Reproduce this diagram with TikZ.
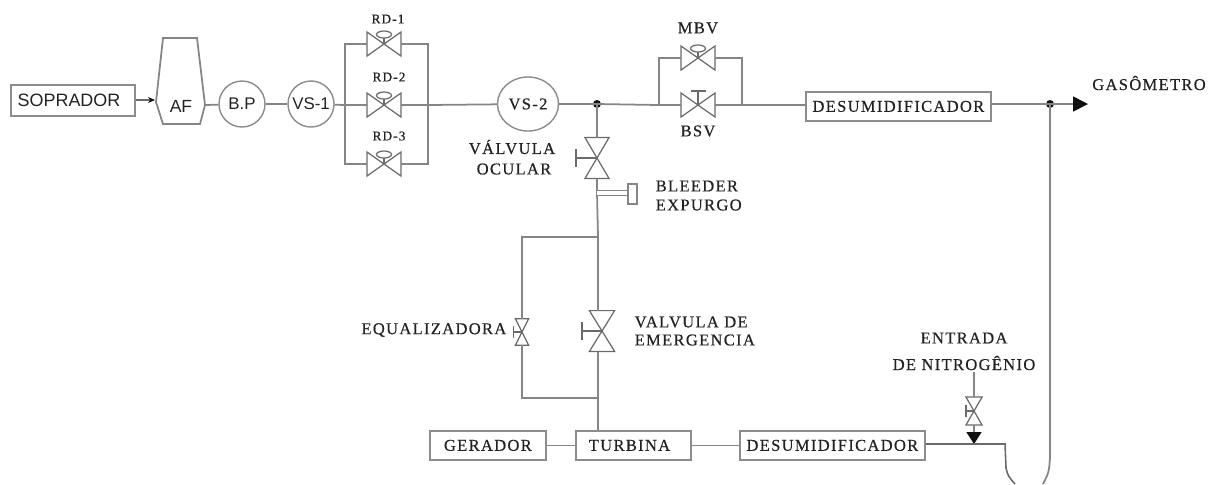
\documentclass[tikz,border=0pt]{standalone}
\usepackage{fontspec}
\setsansfont{Liberation Sans}
\newfontfamily\tagfont[LetterSpace=8,FakeBold=0.5]{Liberation Serif}
\usepackage{xcolor}
\usetikzlibrary{arrows.meta,shapes.geometric}
\definecolor{pipeline}{HTML}{858585}
\definecolor{boxline}{HTML}{8C8C8C}
\definecolor{textpri}{HTML}{222222}
\definecolor{tipcol}{HTML}{111111}
\tikzset{
  pipe/.style={draw=pipeline, line width=0.5pt},
  pipethin/.style={draw=pipeline!80!black, line width=0.35pt},
  unitbox/.style={draw=boxline, line width=0.5pt, inner sep=0, anchor=north west,
                  font=\fontsize{4.7}{5}\tagfont, text=textpri},
  unitround/.style={draw=boxline, line width=0.4pt, circle, inner sep=0, minimum size=0.46cm,
                    font=\sffamily\fontsize{4.8}{5}\selectfont, text=textpri},
  ltag/.style={inner sep=0, font=\fontsize{4.7}{5}\tagfont, text=textpri},
  lsmall/.style={inner sep=0, font=\fontsize{3.8}{5}\tagfont, text=textpri},
  juncdot/.style={circle, fill=tipcol, inner sep=0, minimum size=0.08cm},
  pics/bonnetvalve/.style={code={
    \draw[pipethin] (-.17,.12) -- (.17,-.12) -- (.17,.12) -- (-.17,-.12) -- cycle;
    \draw[pipethin] (0,0) -- (0,.06);
    \draw[pipethin] (0,.095) ellipse (.075 and .035);
    \coordinate (-w) at (-.17,0);
    \coordinate (-e) at (.17,0);
  }},
  pics/handvalve/.style={code={
    \draw[pipethin] (-.17,.12) -- (.17,-.12) -- (.17,.12) -- (-.17,-.12) -- cycle;
    \draw[pipethin] (0,0) -- (0,#1) (-.075,#1) -- (.075,#1);
    \coordinate (-w) at (-.17,0);
    \coordinate (-e) at (.17,0);
  }},
}
\begin{document}
\begin{tikzpicture}
  \useasboundingbox (0,0) rectangle (12.13,-4.84);

  % --- blower line ---
  \node[unitbox, minimum width=1.24cm, minimum height=0.31cm,
        font=\sffamily\fontsize{5.1}{5}\selectfont] (soprador) at (0.10,-0.84) {SOPRADOR\kern2.2pt};
  \draw[pipe] (1.63,-0.38) -- (1.97,-0.38) -- (2.05,-1.05) -- (2.00,-1.24)
              -- (1.63,-1.24) -- (1.56,-1.02) -- cycle;
  \node[inner sep=0, font=\sffamily\fontsize{5}{5}\selectfont, text=textpri] (af) at (1.81,-1.06) {AF};
  \coordinate (afw) at (1.55,-1.00);
  \coordinate (afe) at (2.05,-1.05);
  \node[unitround] (bp) at (2.42,-1.04) {B.P};
  \node[unitround] (vs1) at (3.11,-1.04) {VS-1};
  \draw[pipethin, -{Stealth[length=0.07cm,width=0.06cm,color=tipcol]}] (soprador.east |- afw) -- (afw);
  \draw[pipe] (afe) -- (bp);
  \draw[pipe] (bp) -- (vs1);

  % --- RD valves ---
  \pic (rd1) at (3.84,-0.44) {bonnetvalve};
  \pic (rd2) at (3.84,-1.05) {bonnetvalve};
  \pic (rd3) at (3.84,-1.64) {bonnetvalve};
  \node[lsmall] (lrd1) at (3.88,-0.19) {RD-1};
  \node[lsmall] (lrd2) at (3.89,-0.77) {RD-2};
  \node[lsmall] (lrd3) at (3.89,-1.36) {RD-3};
  \coordinate (rdinn) at (3.45,-1.05);
  \coordinate (rdout) at (4.28,-1.05);
  \draw[pipe] (vs1) -- (rdinn) -- (rd2-w);
  \draw[pipe] (rd1-w) -| (rdinn) |- (rd3-w);
  \draw[pipe] (rd1-e) -| (rdout) |- (rd3-e);
  \draw[pipe] (rd2-e) -- (rdout);

  % --- VS-2 and by-pass ---
  \node[draw=boxline, line width=0.4pt, ellipse, inner sep=0, minimum width=0.61cm, minimum height=0.54cm,
        font=\fontsize{4.7}{5}\tagfont, text=textpri] (vs2) at (5.28,-1.04) {VS-2};
  \node[juncdot] (tee) at (5.97,-1.04) {};
  \pic (mbv) at (6.98,-0.58) {bonnetvalve};
  \pic (bsv) at (6.98,-1.05) {handvalve=.14};
  \node[ltag] (lmbv) at (6.98,-0.28) {MBV};
  \node[ltag] (lbsv) at (6.98,-1.31) {BSV};
  \coordinate (bypinn) at (6.59,-1.05);
  \coordinate (bypout) at (7.42,-1.05);
  \node[unitbox, minimum width=1.85cm, minimum height=0.29cm] (desum) at (8.05,-0.91) {DESUMIDIFICADOR};
  \node[juncdot] (teegas) at (10.50,-1.04) {};
  \coordinate (gasend) at (10.88,-1.04);
  \node[ltag] (lgas) at (11.49,-0.83) {GASÔMETRO};
  \draw[pipe] (rdout) -- (vs2);
  \draw[pipe] (vs2) -- (tee.center) -- (bypinn) -- (bsv-w);
  \draw[pipe] (mbv-w) -| (bypinn);
  \draw[pipe] (mbv-e) -| (bypout);
  \draw[pipe] (bsv-e) -- (bypout) -- (desum.west |- bypout);
  \draw[pipe] (desum.east |- gasend) -- (teegas.center);
  \draw[pipe, -{Triangle[length=0.15cm,width=0.15cm,color=tipcol]}] (teegas.center) -- (gasend);

  % --- ocular valve and bleeder ---
  \pic[rotate=90, xscale=1.2] (ocular) at (5.97,-1.58) {handvalve=.21};
  \node[ltag] (locular1) at (5.12,-1.47) {VÁLVULA};
  \node[ltag] (locular2) at (5.14,-1.69) {OCULAR};
  \coordinate (bleedin) at (5.97,-1.93);
  \coordinate (bleedcap) at (6.28,-1.93);
  \coordinate (branchtop) at (5.98,-2.37);
  \draw[pipe] (tee.center) -- (ocular-e);
  \draw[pipe] (ocular-w) -- (bleedin) -- (branchtop);
  \draw[pipe, double=white, double distance=0.035cm, line width=0.3pt] (bleedin) -- (bleedcap);
  \draw[pipe] (6.28,-1.84) rectangle (6.37,-2.04);
  \node[ltag, anchor=west] (lbleed) at (6.55,-1.86) {BLEEDER};
  \node[ltag, anchor=west] (lexp) at (6.55,-2.05) {EXPURGO};

  % --- equalizing branch ---
  \pic[rotate=90, xscale=0.78, yscale=0.55] (equal) at (5.22,-3.32) {handvalve=.15};
  \node[ltag, anchor=east] (lequal) at (5.07,-3.30) {EQUALIZADORA};
  \pic[rotate=90, xscale=1.2, yscale=1.05] (emerg) at (6.02,-3.31) {handvalve=.19};
  \node[ltag, anchor=west] (lval) at (6.34,-3.22) {VALVULA DE};
  \node[ltag, anchor=west] (lemerg) at (6.34,-3.40) {EMERGENCIA};
  \coordinate (emtop) at (5.98,-3.11);
  \coordinate (embot) at (5.98,-3.52);
  \coordinate (branchbot) at (5.98,-3.98);
  \coordinate (eqtop) at (5.22,-2.37);
  \coordinate (eqbot) at (5.22,-3.98);
  \draw[pipe] (branchtop) -- (emtop);
  \draw[pipe] (branchtop) -- (eqtop) -- (equal-e);
  \draw[pipe] (equal-w) -- (eqbot) -- (branchbot);

  % --- bottom line ---
  \node[unitbox, minimum width=1.16cm, minimum height=0.29cm] (gerador) at (4.29,-4.30) {GERADOR};
  \node[unitbox, minimum width=1.15cm, minimum height=0.29cm] (turbina) at (5.75,-4.30) {TURBINA\kern2.2pt};
  \node[unitbox, minimum width=1.85cm, minimum height=0.29cm] (desumb) at (7.39,-4.30) {DESUMIDIFICADOR};
  \coordinate (turbtop) at (5.98,-4.30);
  \draw[pipe] (embot) -- (branchbot) -- (turbtop);
  \draw[pipe] (gerador) -- (turbina);
  \draw[pipe] (turbina) -- (desumb);

  % --- nitrogen inlet and seal pot ---
  \pic[rotate=90, xscale=0.82, yscale=0.67] (nitro) at (9.74,-4.11) {handvalve=.12};
  \node[ltag] (lent) at (9.64,-3.38) {ENTRADA};
  \node[ltag] (lnit) at (9.64,-3.63) {DE NITROGÊNIO};
  \coordinate (nitin) at (9.74,-3.72);
  \coordinate (nitout) at (9.74,-4.44);
  \coordinate (sealin) at (10.05,-4.44);
  \coordinate (seall) at (10.15,-4.84);
  \coordinate (sealr) at (10.43,-4.84);
  \draw[pipe] (nitin) -- (nitro-e);
  \draw[pipe, -{Triangle[length=0.12cm,width=0.15cm,color=tipcol]}] (nitro-w) -- (nitout);
  \draw[pipethin, line width=0.45pt] (desumb.east |- sealin) -- (sealin)
       -- (10.06,-4.68) .. controls (10.08,-4.76) .. (seall);
  \draw[pipe] (teegas.center) -- (10.50,-4.57) .. controls (10.49,-4.72) .. (sealr);
\end{tikzpicture}
\end{document}
